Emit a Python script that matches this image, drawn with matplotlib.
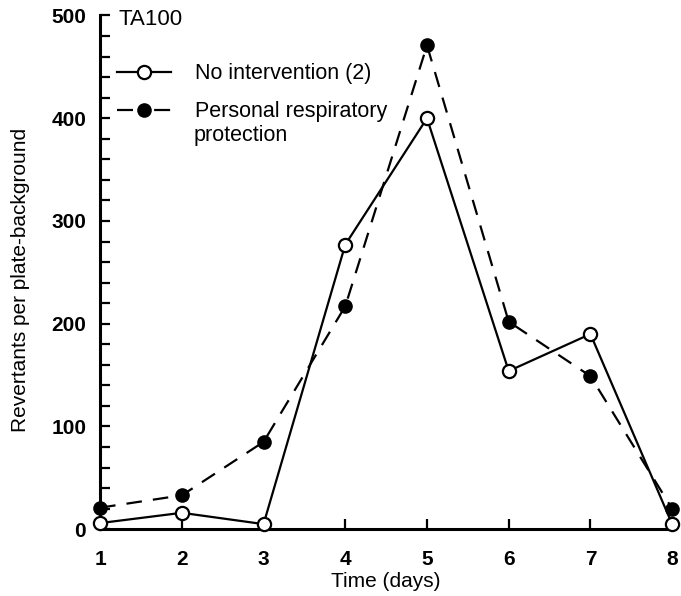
import matplotlib.pyplot as plt
from matplotlib.ticker import MultipleLocator

plt.rcParams['font.family'] = ['Liberation Sans', 'DejaVu Sans']

days = [1, 2, 3, 4, 5, 6, 7, 8]
no_intervention = [6, 16, 5, 277, 400, 154, 190, 5]
respiratory = [21, 33, 85, 217, 471, 202, 149, 20]

fig = plt.figure(figsize=(6.81, 5.96), dpi=100)
ax = fig.add_axes([0.147, 0.112, 0.840, 0.862])

ax.plot(days, no_intervention, '-', color='black', lw=1.6,
        marker='o', ms=9.5, mfc='white', mec='black', mew=1.6,
        clip_on=False, zorder=4, label='No intervention (2)')
ax.plot(days, respiratory, color='black', lw=1.6, dashes=(7, 5),
        marker='o', ms=9.5, mfc='black', mec='black',
        clip_on=False, zorder=3, label='Personal respiratory')

ax.set_xlim(1, 8)
ax.set_ylim(0, 500)
ax.xaxis.set_major_locator(MultipleLocator(1))
ax.yaxis.set_major_locator(MultipleLocator(100))
ax.yaxis.set_minor_locator(MultipleLocator(20))

for s in ['top', 'right']:
    ax.spines[s].set_visible(False)
for s in ['left', 'bottom']:
    ax.spines[s].set_linewidth(2.2)

ax.tick_params(axis='both', which='both', direction='in', width=1.6)
ax.tick_params(axis='both', which='major', length=7, labelsize=15)
ax.tick_params(axis='y', which='minor', length=7)
ax.tick_params(axis='y', which='major', pad=10)
ax.tick_params(axis='x', which='major', pad=15)
for lab in ax.get_xticklabels() + ax.get_yticklabels():
    lab.set_fontweight('bold')

ax.set_xlabel('Time (days)', fontsize=15, labelpad=2)
ax.set_ylabel('Revertants per plate-background', fontsize=15)
ax.yaxis.set_label_coords(-0.122, 0.485)

ax.text(0.033, 0.992, 'TA100', transform=ax.transAxes, fontsize=16,
        ha='left', va='center')
leg = ax.legend(loc='upper left', bbox_to_anchor=(0.015, 0.924), frameon=False,
                fontsize=15.5, handlelength=2.5, handletextpad=1.1,
                labelspacing=0.8, borderaxespad=0)
leg.legend_handles[1].set_dashes((7.2, 9.5, 7.2, 9.5))
ax.text(0.163, 0.767, 'protection', transform=ax.transAxes, fontsize=15.5,
        ha='left', va='center')

fig.savefig('out.png', dpi=100)
